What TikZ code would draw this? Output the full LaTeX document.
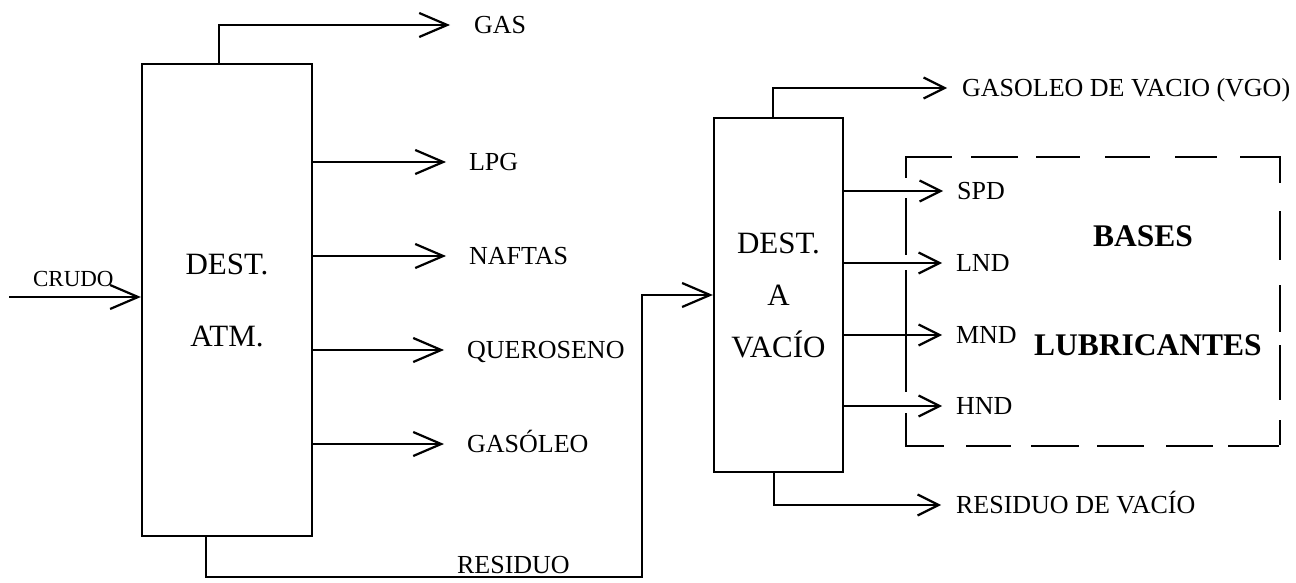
\documentclass[tikz,border=0pt]{standalone}
\usepackage{fontspec}
\setmainfont{Liberation Serif}
\usetikzlibrary{arrows.meta}
\begin{document}
\begin{tikzpicture}[x=1pt,y=-1pt,line width=2.2pt,
  col/.style={draw, line width=2.2pt, inner sep=0pt, align=center},
  lbl/.style={anchor=west, inner sep=0pt, font=\fontsize{26}{30}\selectfont, text height=17pt, text depth=0pt},
  boldlbl/.style={inner sep=0pt, font=\bfseries\fontsize{31.5}{36}\selectfont},
  arr/.style={-{Straight Barb[length=28pt,width=24pt,line width=2.2pt]}},
  arrs/.style={-{Straight Barb[length=21pt,width=21pt,line width=2.2pt]}},
  boxside/.style={line width=2.2pt, line cap=rect}
]
\useasboundingbox (0,0) rectangle (1296,583);

% columns
\node[col, minimum width=170pt, minimum height=472pt, font=\fontsize{31}{72}\selectfont] (atm) at (227,300) {DEST.\\ATM.};
\node[col, minimum width=129pt, minimum height=354pt, font=\fontsize{31}{52}\selectfont] (vac) at (778.5,295) {DEST.\\A\\VACÍO};

% atmospheric labels
\node[lbl] (gas) at (473,25) {GAS};
\node[lbl] (lpg) at (468,162) {LPG};
\node[lbl] (naf) at (468,256) {NAFTAS};
\node[lbl] (que) at (466,350) {QUEROSENO};
\node[lbl] (gso) at (466,444) {GASÓLEO};
\node[lbl] (res) at (456,565) {RESIDUO};
\node[lbl, font=\fontsize{23}{28}\selectfont, text height=15pt] (cru) at (32,279) {CRUDO};

% vacuum labels
\node[lbl] (vgo) at (961,88) {GASOLEO DE VACIO (VGO)};
\node[lbl] (spd) at (956,191) {SPD};
\node[lbl] (lnd) at (955,263) {LND};
\node[lbl] (mnd) at (955,335) {MND};
\node[lbl] (hnd) at (955,406) {HND};
\node[lbl] (rvac) at (955,505) {RESIDUO DE VACÍO};

% lubricant bases box
\node[inner sep=0pt, minimum width=372pt, minimum height=287pt] (lub) at (1093,301.5) {};
\node[boldlbl] (bases) at (1143,236) {BASES};
\node[boldlbl] (lubr) at (1148,345) {LUBRICANTES};
\draw[boxside, dash pattern=on 45pt off 21pt on 45pt off 20pt on 42pt off 27pt on 43pt off 27pt on 40pt off 25pt on 37pt off 100pt]
  (lub.north west) -- (lub.north east);
\draw[boxside, dash pattern=on 37pt off 24pt on 43pt off 22pt on 46pt off 20pt on 45pt off 24pt on 45pt off 17pt on 49pt off 100pt]
  (lub.south west) -- (lub.south east);
\draw[boxside, dash pattern=on 20pt off 22pt on 55pt off 17pt on 120pt off 23pt on 30pt off 100pt]
  (lub.north west) -- (lub.south west);
\draw[boxside, dash pattern=on 25pt off 30pt on 47pt off 27pt on 45pt off 15pt on 53pt off 22pt on 23pt off 100pt]
  (lub.north east) -- (lub.south east);

% atmospheric connectors
\coordinate (crin) at (9,297);
\draw[arr] (crin) -- (atm.west |- crin);
\coordinate (gasc) at (219,25);
\draw[arr] (atm.north -| gasc) -- (gasc) -- ([xshift=-23pt]gas.west);
\draw[arr] (atm.east |- lpg.west) -- ([xshift=-22pt]lpg.west);
\draw[arr] (atm.east |- naf.west) -- ([xshift=-22pt]naf.west);
\draw[arr] (atm.east |- que.west) -- ([xshift=-22pt]que.west);
\draw[arr] (atm.east |- gso.west) -- ([xshift=-22pt]gso.west);
\coordinate (r1) at (206,577);
\coordinate (r2) at (642,577);
\draw[arr] (atm.south -| r1) -- (r1) -- (r2) |- (vac.west);

% vacuum connectors
\coordinate (vgoc) at (773,88);
\draw[arrs] (vac.north -| vgoc) -- (vgoc) -- ([xshift=-14pt]vgo.west);
\draw[arrs] (vac.east |- spd.west) -- ([xshift=-13pt]spd.west);
\draw[arrs] (vac.east |- lnd.west) -- ([xshift=-13pt]lnd.west);
\draw[arrs] (vac.east |- mnd.west) -- ([xshift=-13pt]mnd.west);
\draw[arrs] (vac.east |- hnd.west) -- ([xshift=-13pt]hnd.west);
\coordinate (vrc) at (774,505);
\draw[arrs] (vac.south -| vrc) -- (vrc) -- ([xshift=-14pt]rvac.west);
\end{tikzpicture}
\end{document}
